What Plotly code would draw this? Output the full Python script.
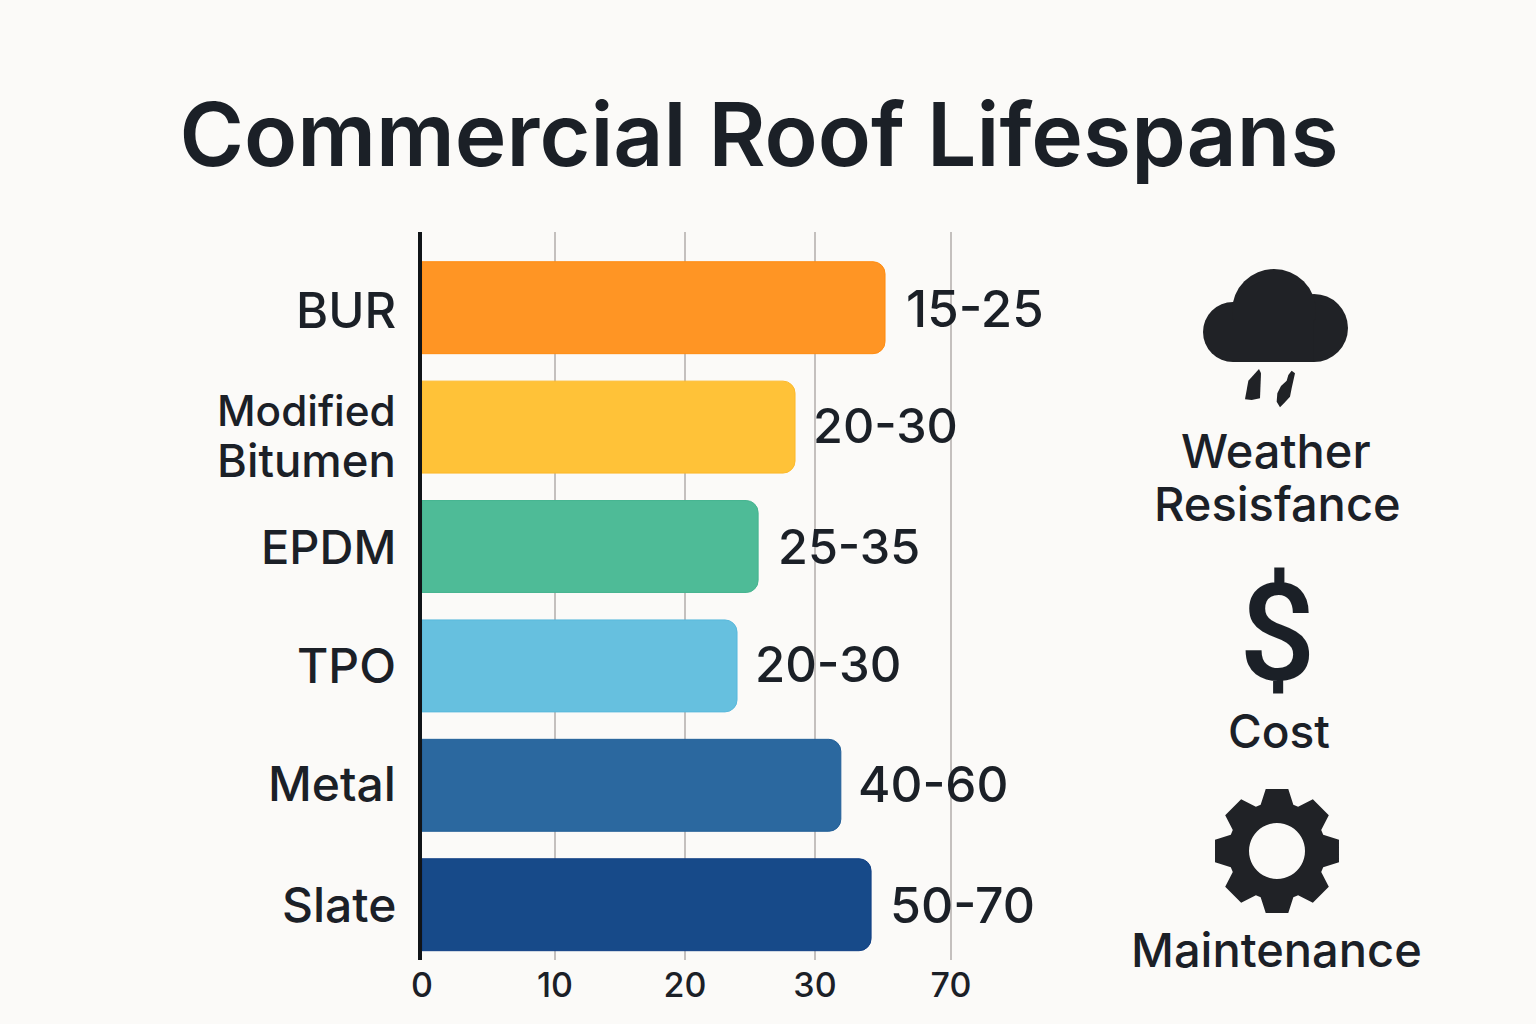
import math
import plotly.graph_objects as go

# ---- data ----
categories = ["BUR", "Modified<br>Bitumen", "EPDM", "TPO", "Metal", "Slate"]
bar_values = [34.88, 28.1, 25.32, 23.73, 31.55, 33.83]
range_labels = ["15-25", "20-30", "25-35", "20-30", "40-60", "50-70"]
bar_colors = ["#FF9524", "#FFC238", "#4EBB97", "#66C0DF", "#2B689F", "#174A89"]
edge_colors = ["#FF8C10", "#FDB92A", "#45B48F", "#58B8DC", "#225F98", "#103F85"]
label_sizes = [51, 48.5, 48.5, 49, 49.5, 50]
label_dx = [3, 0, 2, 0, -1, 1]
label_dy = [1, -2, 0, -1, -1, 0]
category_sizes = [[49], [42.3, 45.5], [47], [48], [48], [48]]
category_dy = [3, 9, 0, 0, -2, 0]
x_tick_vals = [0, 10.02, 19.81, 29.6, 39.85]
x_tick_text = ["0", "10", "20", "30", "70"]

W, H = 1536, 1024
L, R, T, B = 422, 434, 232, 64
INK = "#1B2027"
ICON = "#202226"
BG = "#FBFAF8"
FONT = "Inter"

px = lambda x: (x - L) / (W - L - R)
py = lambda y: 1 - (y - T) / (H - T - B)

fig = go.Figure(go.Bar(
    y=list(range(len(categories))), x=bar_values, orientation="h", width=0.77,
    marker=dict(color=bar_colors, line=dict(color=edge_colors, width=1), cornerradius=12),
    hoverinfo="skip",
))

for i, (v, t, s) in enumerate(zip(bar_values, range_labels, label_sizes)):
    fig.add_annotation(x=v, y=i, xref="x", yref="y", text=t, showarrow=False, xanchor="left",
                       xshift=16 + label_dx[i], yshift=-label_dy[i],
                       font=dict(family=FONT, size=s, color=INK, weight=500))

# category labels
for i, (c, sizes) in enumerate(zip(categories, category_sizes)):
    lines = c.split("<br>")
    text = "<br>".join(f'<span style="font-size:{s}px">{ln}</span>' for ln, s in zip(lines, sizes))
    fig.add_annotation(x=0, y=i, xref="x", yref="y", text=text, showarrow=False, xanchor="right",
                       align="right", xshift=-24, yshift=-category_dy[i],
                       font=dict(family=FONT, size=39 if len(lines) > 1 else sizes[0], color=INK, weight=500))


def note(text, x, y, size, weight=500, family=FONT):
    fig.add_annotation(x=px(x), y=py(y), xref="paper", yref="paper", text=text, showarrow=False,
                       xanchor="center", yanchor="middle",
                       font=dict(family=family, size=size, color=INK, weight=weight))


note("Weather", 1276, 450, 47)
note("Resisfance", 1277, 503, 47)
note("$", 1277, 634, 135, 500, "Roboto")
note("Cost", 1279, 731, 46)
note("Maintenance", 1276, 949, 47)

shapes = []


def circle(cx, cy, r):
    shapes.append(dict(type="circle", xref="paper", yref="paper", x0=px(cx - r), x1=px(cx + r),
                       y0=py(cy + r), y1=py(cy - r), fillcolor=ICON, line_width=0, layer="above"))


def path(points, extra=""):
    d = "M" + " L".join(f"{px(a):.5f},{py(b):.5f}" for a, b in points) + " Z" + extra
    shapes.append(dict(type="path", xref="paper", yref="paper", path=d, fillcolor=ICON,
                       line_width=0, layer="above"))


zoom_pt = lambda a, b: (1180 + a / 3, 260 + b / 3)

# cloud icon
circle(1233, 332, 30)
circle(1314, 328, 34)
circle(1274, 311, 42)
path([(1233, 320), (1314, 320), (1314, 362), (1233, 362)])
# drops
path([zoom_pt(a, b) for a, b in [(195, 418), (205, 362), (237, 327), (243, 340), (240, 415), (215, 420)]])
path([zoom_pt(a, b) for a, b in [(325, 345), (335, 332), (345, 340), (340, 362), (335, 385), (330, 410),
                                 (312, 430), (300, 442), (290, 425), (292, 400), (303, 378), (320, 362)]])

# gear icon
cx, cy = 1277, 851
outer, root, hole = 63, 49, 28
pts = []
for k in range(8):
    a = k * math.pi / 4
    for r, da in ((root, -0.34), (outer, -0.18), (outer, 0.18), (root, 0.34)):
        pts.append((cx + r * math.sin(a + da), cy - r * math.cos(a + da)))
hole_pts = [(cx + hole * math.cos(j * math.pi / 24), cy + hole * math.sin(j * math.pi / 24)) for j in range(48)]
path(pts, " M" + " L".join(f"{px(a):.5f},{py(b):.5f}" for a, b in hole_pts) + " Z")

fig.update_layout(
    width=W, height=H, autosize=False,
    margin=dict(l=L, r=R, t=T, b=B, pad=0),
    paper_bgcolor=BG, plot_bgcolor=BG, showlegend=False, shapes=shapes,
    title=dict(text="Commercial Roof Lifespans", xref="container", yref="container",
               x=759 / W, y=1 - 135 / H, xanchor="center", yanchor="middle",
               font=dict(family=FONT, size=87.5, color=INK, weight=600)),
    xaxis=dict(range=[0, (W - L - R) / 13.275], tickvals=x_tick_vals, ticktext=x_tick_text,
               showgrid=True, gridcolor="#C4C0BE", gridwidth=1.5, zeroline=False, showline=False,
               ticks="", ticklabelstandoff=2,
               tickfont=dict(family=FONT, size=34, color=INK, weight=500)),
    yaxis=dict(range=[5.463, -0.634], showticklabels=False,
               showgrid=False, zeroline=False, showline=True, linecolor="#101418", linewidth=3.5,
               ticks=""),
)

fig.write_html("out.html", config={"displayModeBar": False},
               post_script="document.body.style.margin='0';document.body.style.background='#FBFAF8';")
